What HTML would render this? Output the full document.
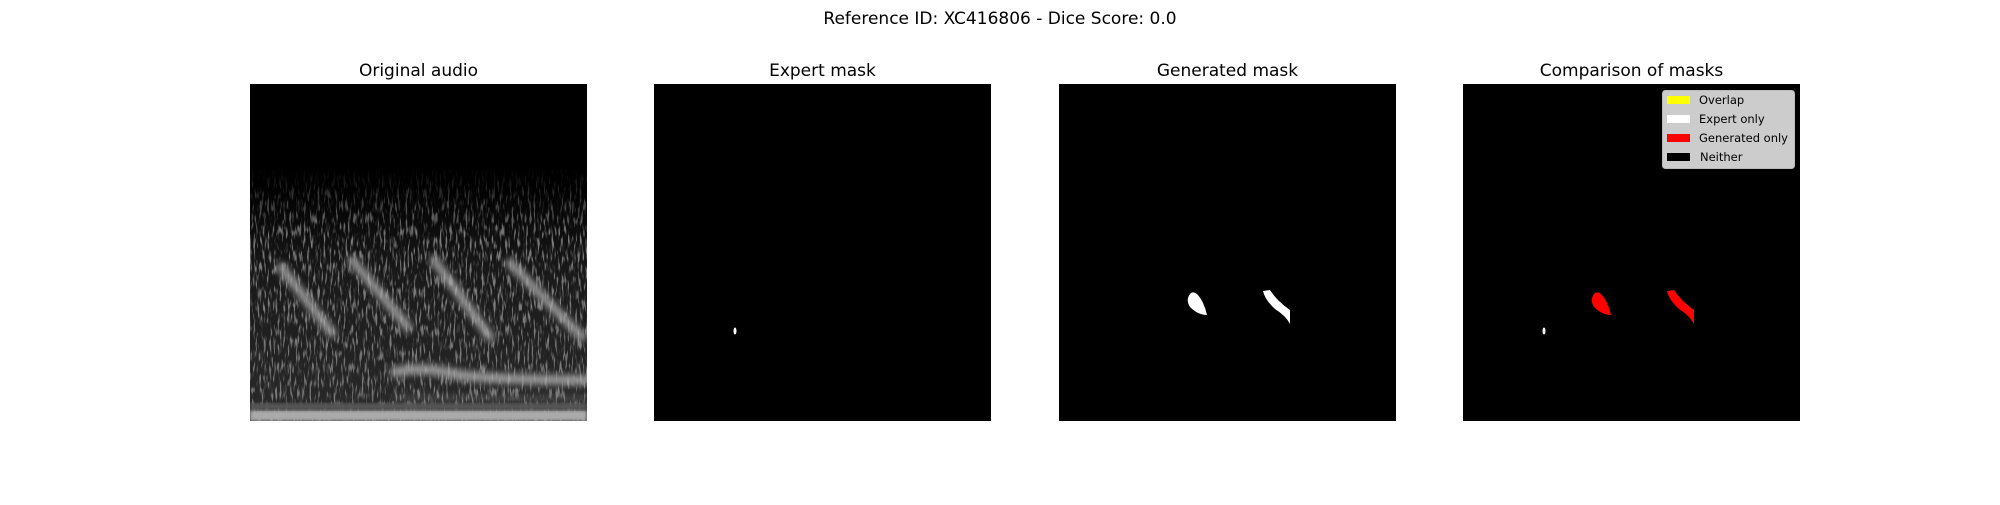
<!DOCTYPE html>
<html><head><meta charset="utf-8"><style>
html,body{margin:0;padding:0;background:#fff;}
svg text{font-family:"DejaVu Sans","Liberation Sans",sans-serif;}
</style></head><body>
<svg width="2000" height="500" viewBox="0 0 2000 500" xmlns="http://www.w3.org/2000/svg">
<defs>
<filter id="noise" x="0" y="0" width="100%" height="100%">
<feTurbulence type="fractalNoise" baseFrequency="0.5 0.08" numOctaves="2" seed="3" result="t"/>
<feColorMatrix type="matrix" values="0 0 0 0 0.2  0 0 0 0 0.2  0 0 0 0 0.2  0 0 0 5 -2.6"/>
</filter>
<filter id="blur"><feGaussianBlur stdDeviation="3.5"/></filter>
<filter id="blur2"><feGaussianBlur stdDeviation="1.5"/></filter>
<linearGradient id="bg" x1="0" y1="0" x2="0" y2="1">
<stop offset="0" stop-color="#000"/><stop offset="0.3" stop-color="#000"/>
<stop offset="0.55" stop-color="#181818"/><stop offset="1" stop-color="#2a2a2a"/>
</linearGradient>
<linearGradient id="fade" x1="0" y1="0" x2="0" y2="1">
<stop offset="0" stop-color="#fff" stop-opacity="0"/><stop offset="0.25" stop-color="#fff" stop-opacity="0"/>
<stop offset="0.45" stop-color="#fff" stop-opacity="1"/><stop offset="1" stop-color="#fff" stop-opacity="1"/>
</linearGradient>
<mask id="fm"><rect x="250" y="84" width="337" height="337" fill="url(#fade)"/></mask>
<clipPath id="c1"><rect x="250" y="84" width="337" height="337"/></clipPath>
</defs>
<text x="1000" y="24" text-anchor="middle" font-size="17">Reference ID: XC416806 - Dice Score: 0.0</text>

<g>
<text x="418.5" y="76" text-anchor="middle" font-size="17">Original audio</text>
<g clip-path="url(#c1)">
<rect x="250" y="84" width="337" height="337" fill="url(#bg)"/>
<rect x="250" y="84" width="337" height="337" filter="url(#noise)" mask="url(#fm)"/>
<g stroke="#aaa" stroke-width="9" stroke-linecap="round" filter="url(#blur)" opacity="0.85">
<line x1="281" y1="267" x2="332" y2="333"/>
<line x1="352" y1="260" x2="408" y2="327"/>
<line x1="434" y1="260" x2="490" y2="337"/>
<line x1="510" y1="263" x2="582" y2="337"/>
<path d="M395 372 Q420 366 450 373 T587 380" fill="none" stroke-width="10"/>
<line x1="395" y1="398" x2="587" y2="398" stroke-width="4" opacity="0.4"/>
</g>
<rect x="250" y="410" width="337" height="11" fill="#aaa" filter="url(#blur2)"/>
<rect x="250" y="403" width="337" height="7" fill="#555" filter="url(#blur2)"/>
</g>
</g>

<g>
<text x="822.5" y="76" text-anchor="middle" font-size="17">Expert mask</text>
<rect x="654" y="84" width="337" height="337" fill="#000"/>
<ellipse cx="735" cy="331" rx="1.5" ry="3.5" fill="#fff"/>
</g>

<g>
<text x="1227.5" y="76" text-anchor="middle" font-size="17">Generated mask</text>
<rect x="1059" y="84" width="337" height="337" fill="#000"/>
<path d="M1191 293 Q1185 299 1190 307 Q1198 315 1207 315 Q1204 302 1198 295 Q1194 291 1191 293Z" fill="#fff"/>
<path d="M1263 291 L1270 290 Q1277 301 1290 310 L1290 324 Q1286 316 1275 309 Q1265 300 1263 291Z" fill="#fff"/>
</g>

<g>
<text x="1631.5" y="76" text-anchor="middle" font-size="17">Comparison of masks</text>
<rect x="1463" y="84" width="337" height="337" fill="#000"/>
<ellipse cx="1544" cy="331" rx="1.5" ry="3.5" fill="#fff"/>
<path d="M1595 293 Q1589 299 1594 307 Q1602 315 1611 315 Q1608 302 1602 295 Q1598 291 1595 293Z" fill="#f00"/>
<path d="M1667 291 L1674 290 Q1681 301 1694 310 L1694 324 Q1690 316 1679 309 Q1669 300 1667 291Z" fill="#f00"/>
<g>
<rect x="1662.5" y="90.5" width="132" height="78" rx="3" fill="#ccc" stroke="#bbb"/>
<rect x="1667" y="96" width="23" height="8" fill="#ff0"/>
<text x="1699" y="104" font-size="11.5">Overlap</text>
<rect x="1667" y="115" width="23" height="8" fill="#fff"/>
<text x="1699" y="123" font-size="11.5">Expert only</text>
<rect x="1667" y="134" width="23" height="8" fill="#f00"/>
<text x="1699" y="142" font-size="11.5">Generated only</text>
<rect x="1667" y="153" width="23" height="8" fill="#000"/>
<text x="1700" y="161" font-size="11.5">Neither</text>
</g>
</g>
</svg>
</body></html>
